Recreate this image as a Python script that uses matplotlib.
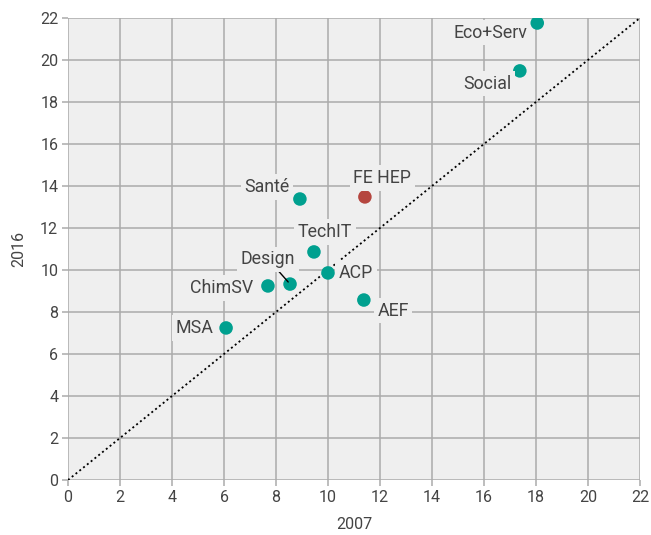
import matplotlib
matplotlib.use("Agg")
import matplotlib.pyplot as plt

plt.rcParams['font.family'] = ['Roboto', 'DejaVu Sans']

labels = ["Eco+Serv", "Social", "FE HEP", "Santé", "TechIT", "ACP", "Design", "ChimSV", "AEF", "MSA"]
x2007 = [18.05, 17.38, 11.42, 8.92, 9.46, 10.0, 8.54, 7.69, 11.38, 6.08]
y2016 = [21.76, 19.48, 13.48, 13.38, 10.86, 9.86, 9.33, 9.24, 8.57, 7.24]
highlight = ["FE HEP"]
label_x = [16.23, 16.12, 12.08, 7.65, 9.88, 11.08, 7.69, 5.92, 12.5, 4.88]
label_y = [21.29, 18.86, 14.38, 13.95, 11.81, 9.86, 10.52, 9.14, 8.05, 7.24]
ticks = list(range(0, 23, 2))

teal = "#00a08f"
red = "#b5463f"
panel = "#efefef"
txt = "#444444"

fig = plt.figure(figsize=(6.51, 5.35), dpi=100)
ax = fig.add_axes([0.1045, 0.1028, 0.983 - 0.1045, 0.9664 - 0.1028])
ax.set_facecolor(panel)
ax.set_xlim(0, 22)
ax.set_ylim(0, 22)
ax.set_xticks(ticks)
ax.set_yticks(ticks)
ax.grid(True, color="#ababab", linewidth=1.1)
ax.set_axisbelow(True)
for s in ax.spines.values():
    s.set_visible(False)
ax.tick_params(length=4, color="#ababab", width=1.1, labelsize=11.5, labelcolor=txt, pad=3)

ax.plot([0, 22], [0, 22], linestyle=(0, (1.1, 1.6)), color="black", linewidth=1.3, zorder=2)

colors = [red if l in highlight else teal for l in labels]
ax.scatter(x2007, y2016, s=95, c=colors, zorder=4, linewidths=0)

for l, px, py, lx, ly in zip(labels, x2007, y2016, label_x, label_y):
    if l == "Design":
        ax.annotate(l, xy=(px, py), xytext=(lx, ly), ha="center", va="center",
                    fontsize=12.8, color=txt, zorder=5,
                    bbox=dict(boxstyle="square,pad=0.2", fc=panel, ec="none"),
                    arrowprops=dict(arrowstyle="-", color="black", lw=1, shrinkA=0, shrinkB=2))
    else:
        ax.text(lx, ly, l, ha="center", va="center", fontsize=12.8,
                color=txt, zorder=5,
                bbox=dict(boxstyle="square,pad=0.2", fc=panel, ec="none"))

ax.set_xlabel("2007", fontsize=11.5, color=txt, labelpad=9)
ax.set_ylabel("2016", fontsize=11.5, color=txt, labelpad=10)

fig.savefig("out.png", dpi=100, facecolor="white")
